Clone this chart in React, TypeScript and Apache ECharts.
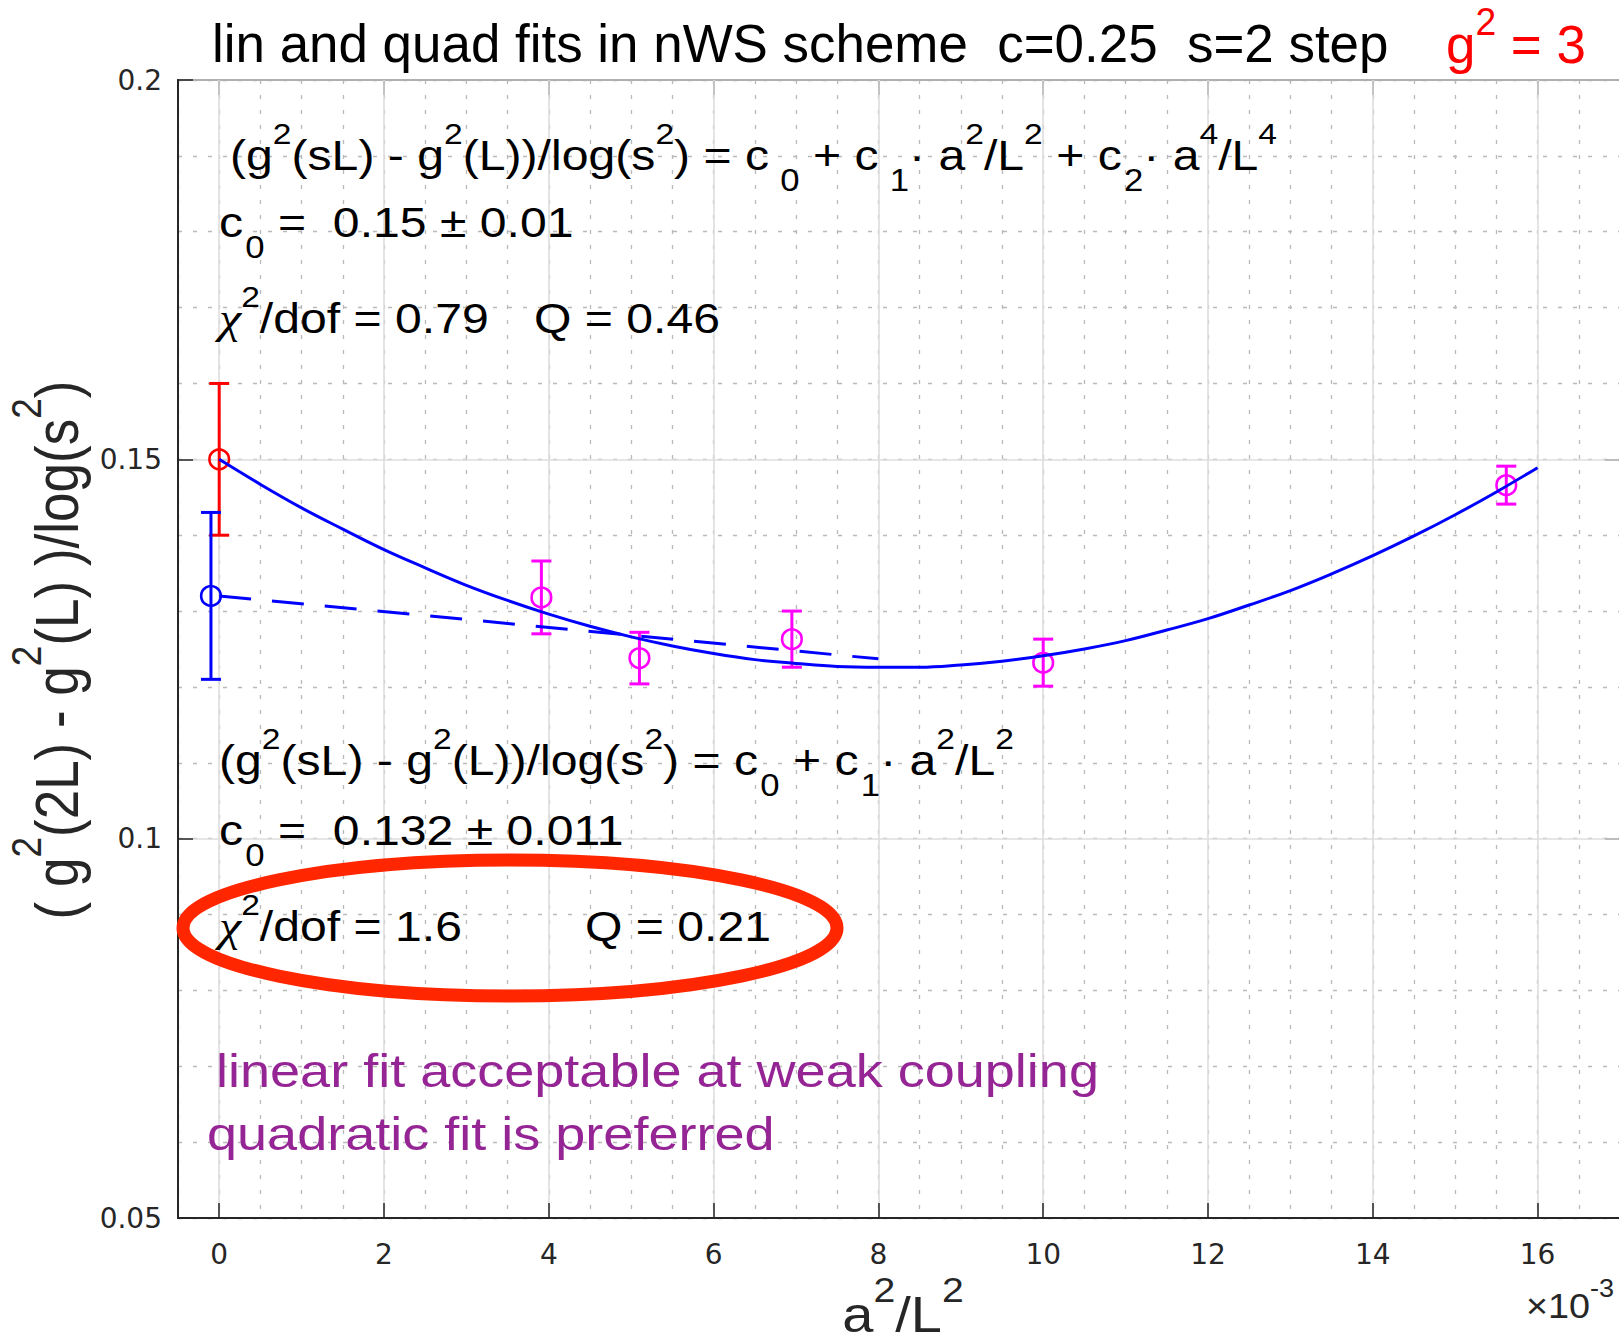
import React, { useEffect, useRef } from 'react';
import * as echarts from 'echarts';

const W = 1619;
const H = 1343;

// a^2/L^2 axis is drawn in units of 1e-3
const xTicks = [0, 2, 4, 6, 8, 10, 12, 14, 16];
const yTicks = [0.05, 0.1, 0.15, 0.2];

// quadratic fit curve sampled along a^2/L^2
const quadX = [0, 0.5, 1, 1.5, 2, 2.5, 3, 3.5, 4, 4.5, 5, 5.5, 6, 6.5, 7, 7.5, 8, 8.5, 9, 9.5, 10, 10.5, 11, 11.5, 12, 12.5, 13, 13.5, 14, 14.5, 15, 15.5, 16];
const quadY = [
  0.15, 0.1467, 0.1436, 0.1408, 0.1381, 0.1357, 0.1334, 0.1314, 0.1296, 0.128, 0.1266,
  0.1254, 0.1244, 0.1236, 0.1231, 0.1227, 0.1226, 0.1226, 0.1229, 0.1234, 0.1241, 0.125,
  0.1261, 0.1275, 0.129, 0.1308, 0.1327, 0.1349, 0.1373, 0.1399, 0.1427, 0.1457, 0.1489,
];

// linear fit over the weak-coupling range
const linX = [0, 8];
const linY = [0.132, 0.1237];

// step-scaling measurements
const measX = [3.91, 5.1, 6.95, 10.0, 15.62];
const measY = [0.1318, 0.1238, 0.1263, 0.1232, 0.1466];
const measErr = [0.0048, 0.0034, 0.0037, 0.0031, 0.0025];

// continuum extrapolations [x, c0, error] (quadratic, linear)
const quadC0 = [0, 0.15, 0.01];
const linC0 = [-0.1, 0.132, 0.011];

const FONT = 'Liberation Sans';
const INK = '#262626';

type Part = [string, string];

// superscripts sit supRise*F above the baseline, subscripts 0.5*F below it
function richStyles(F: number, color: string, subGap: number, supRise: number) {
  const su = Math.round(F * 0.7);
  const sd = Math.round(F * 0.72);
  return {
    n: { fontSize: F, fontFamily: FONT, fill: color },
    u: { fontSize: su, fontFamily: FONT, fill: color, padding: [0, 0, Math.round(2 * (supRise - 0.104) * F), 0] },
    d: { fontSize: sd, fontFamily: FONT, fill: color, padding: [Math.round(F * 1.19), 0, 0, 2] },
    dg: { fontSize: sd, fontFamily: FONT, fill: color, padding: [Math.round(F * 1.19), 0, 0, subGap] },
    x: { fontSize: Math.round(F * 1.05), fontFamily: 'Liberation Serif', fontStyle: 'italic', fill: color },
  };
}

function tex(x: number, baseline: number, F: number, parts: Part[], color = '#000', extra: any = {}) {
  const { sx = 1.12, subGap = 0, supRise = 0.6, align = 'left', ...rest } = extra;
  const text = parts.map(([k, s]) => `{${k}|${s}}`).join('');
  return {
    type: 'text',
    x,
    y: baseline - 0.35 * F,
    scaleX: sx,
    silent: true,
    z: 20,
    ...rest,
    style: {
      text,
      rich: richStyles(F, color, subGap, supRise),
      fontSize: F,
      fontFamily: FONT,
      fill: color,
      lineHeight: Math.round(F * 1.2),
      align,
      verticalAlign: 'middle',
    },
  };
}

const fitA: Part[] = [
  ['n', '(g'], ['u', '2'], ['n', '(sL) - g'], ['u', '2'], ['n', '(L))/log(s'], ['u', '2'],
  ['n', ') = c'], ['dg', '0'], ['n', ' + c'], ['dg', '1'], ['n', '· a'], ['u', '2'], ['n', '/L'], ['u', '2'],
  ['n', ' + c'], ['d', '2'], ['n', '· a'], ['u', '4'], ['n', '/L'], ['u', '4'],
];
const fitB: Part[] = [
  ['n', '(g'], ['u', '2'], ['n', '(sL) - g'], ['u', '2'], ['n', '(L))/log(s'], ['u', '2'],
  ['n', ') = c'], ['d', '0'], ['n', ' + c'], ['d', '1'], ['n', '· a'], ['u', '2'], ['n', '/L'], ['u', '2'],
];

function errorBars(color: string) {
  return (params: any, api: any) => {
    const x = api.value(0);
    const y = api.value(1);
    const e = api.value(2);
    const c = api.coord([x, y]);
    const top = api.coord([x, y + e]);
    const bot = api.coord([x, y - e]);
    const cap = 10;
    const s = { stroke: color, lineWidth: 3, fill: 'none' };
    return {
      type: 'group',
      children: [
        { type: 'line', shape: { x1: c[0], y1: top[1], x2: c[0], y2: bot[1] }, style: s },
        { type: 'line', shape: { x1: c[0] - cap, y1: top[1], x2: c[0] + cap, y2: top[1] }, style: s },
        { type: 'line', shape: { x1: c[0] - cap, y1: bot[1], x2: c[0] + cap, y2: bot[1] }, style: s },
        { type: 'circle', shape: { cx: c[0], cy: c[1], r: 9.8 }, style: { stroke: color, lineWidth: 2.6, fill: 'none' } },
      ],
    };
  };
}

const axisLine = { show: true, onZero: false, lineStyle: { color: INK, width: 2 } };
const tickStyle = { color: INK, width: 1.5 };
const minorGrid = { show: true, lineStyle: { color: '#b9b9b9', width: 1.3, type: [4, 11] } };
const majorGrid = { show: true, lineStyle: { color: '#dedede', width: 1.6 } };

const option: any = {
  animation: false,
  backgroundColor: '#ffffff',
  grid: { left: 178, top: 80, width: 1442, height: 1138, containLabel: false, outerBoundsMode: 'none' },
  xAxis: [
    {
      type: 'value', position: 'bottom', min: -0.5, max: 17,
      axisLine,
      axisTick: { show: true, inside: true, length: 15, customValues: xTicks, lineStyle: tickStyle },
      axisLabel: { show: true, customValues: xTicks, margin: 22, fontSize: 28, fontFamily: 'DejaVu Sans', color: INK },
      splitLine: majorGrid,
      z: 1,
    },
    {
      type: 'value', position: 'top', min: -0.5, max: 17,
      axisLine,
      axisTick: { show: true, inside: true, length: 15, customValues: xTicks, lineStyle: tickStyle },
      axisLabel: { show: false },
      splitLine: { show: false },
    },
    {
      type: 'value', position: 'bottom', min: -0.5, max: 17, interval: 0.5,
      axisLine: { show: false }, axisTick: { show: false }, axisLabel: { show: false },
      splitLine: minorGrid,
      z: 0,
    },
  ],
  yAxis: [
    {
      type: 'value', position: 'left', min: 0.05, max: 0.2, interval: 0.05,
      axisLine,
      axisTick: { show: true, inside: true, length: 15, lineStyle: tickStyle },
      axisLabel: {
        show: true, margin: 16, fontSize: 28, fontFamily: 'DejaVu Sans', color: INK,
        formatter: (v: number) => {
          const t = yTicks.find((k) => Math.abs(k - v) < 1e-9);
          return t === undefined ? '' : String(t);
        },
      },
      splitLine: majorGrid,
      z: 1,
    },
    {
      type: 'value', position: 'right', min: 0.05, max: 0.2, interval: 0.05,
      axisLine,
      axisTick: { show: true, inside: true, length: 15, lineStyle: tickStyle },
      axisLabel: { show: false },
      splitLine: { show: false },
    },
    {
      type: 'value', position: 'left', min: 0.05, max: 0.2, interval: 0.01,
      axisLine: { show: false }, axisTick: { show: false }, axisLabel: { show: false },
      splitLine: minorGrid,
      z: 0,
    },
  ],
  series: [
    {
      type: 'custom', name: 'data', xAxisIndex: 0, yAxisIndex: 0, z: 3,
      renderItem: errorBars('#ff00ff'),
      data: measX.map((x, i) => [x, measY[i], measErr[i]]),
    },
    {
      type: 'custom', name: 'quad c0', xAxisIndex: 0, yAxisIndex: 0, z: 3,
      renderItem: errorBars('#ff0000'),
      data: [quadC0],
    },
    {
      type: 'custom', name: 'lin c0', xAxisIndex: 0, yAxisIndex: 0, z: 3,
      renderItem: errorBars('#0000ff'),
      data: [linC0],
    },
    {
      type: 'line', name: 'quadratic fit', xAxisIndex: 0, yAxisIndex: 0, z: 4,
      data: quadX.map((x, i) => [x, quadY[i]]),
      smooth: 0.4, symbol: 'none', silent: true,
      lineStyle: { color: '#0000ff', width: 3 },
    },
    {
      type: 'line', name: 'linear fit', xAxisIndex: 0, yAxisIndex: 0, z: 4,
      data: linX.map((x, i) => [x, linY[i]]),
      symbol: 'none', silent: true,
      lineStyle: { color: '#0000ff', width: 3, type: [32, 21] },
    },
  ],
  graphic: [
    tex(212, 62, 54, [['n', 'lin and quad fits in nWS scheme  c=0.25  s=2 step']], '#000', { sx: 0.98 }),
    tex(1446, 63, 54, [['n', 'g'], ['u', '2'], ['n', ' = 3']], '#ff0000', { sx: 0.98, supRise: 0.52 }),
    tex(230, 170, 43, fitA, '#000', { subGap: 10 }),
    tex(219, 237, 43, [['n', 'c'], ['d', '0'], ['n', ' =  0.15 ± 0.01']]),
    tex(219, 333, 43, [['x', 'χ'], ['u', '2'], ['n', '/dof = 0.79']]),
    tex(534, 333, 43, [['n', 'Q = 0.46']]),
    tex(219, 775, 43, fitB),
    tex(219, 845, 43, [['n', 'c'], ['d', '0'], ['n', ' =  0.132 ± 0.011']]),
    tex(219, 941, 43, [['x', 'χ'], ['u', '2'], ['n', '/dof = 1.6']]),
    tex(585, 941, 43, [['n', 'Q = 0.21']]),
    {
      type: 'ellipse', silent: true, z: 21,
      shape: { cx: 510, cy: 928, rx: 327, ry: 68 },
      style: { fill: 'none', stroke: '#ff2600', lineWidth: 13 },
    },
    tex(216, 1087, 47, [['n', 'linear fit acceptable at weak coupling']], '#952495', { sx: 1.15 }),
    tex(207, 1150, 47, [['n', 'quadratic fit is preferred']], '#952495', { sx: 1.15 }),
    tex(903, 1332, 50, [['n', 'a'], ['u', '2'], ['n', '/L'], ['u', '2']], INK, { align: 'center', sx: 1.12 }),
    tex(1526, 1318, 35, [['n', '×10'], ['u', '-3']], INK, { sx: 1.08 }),
    {
      ...tex(0, 0, 53, [['n', '( g'], ['u', '2'], ['n', '(2L) - g'], ['u', '2'], ['n', '(L) )/log(s'], ['u', '2'], ['n', ')']], INK, { align: 'center', sx: 1 }),
      x: 57,
      y: 650,
      scaleY: 1.15,
      rotation: Math.PI / 2,
    },
  ],
};

export default function App() {
  const ref = useRef<HTMLDivElement>(null);
  useEffect(() => {
    if (!ref.current) return;
    const chart = echarts.init(ref.current, null, { renderer: 'svg' });
    chart.setOption(option);
    return () => chart.dispose();
  }, []);
  return (
    <div
      ref={ref}
      style={{ position: 'fixed', left: 0, top: 0, width: W, height: H, background: '#fff' }}
    />
  );
}
